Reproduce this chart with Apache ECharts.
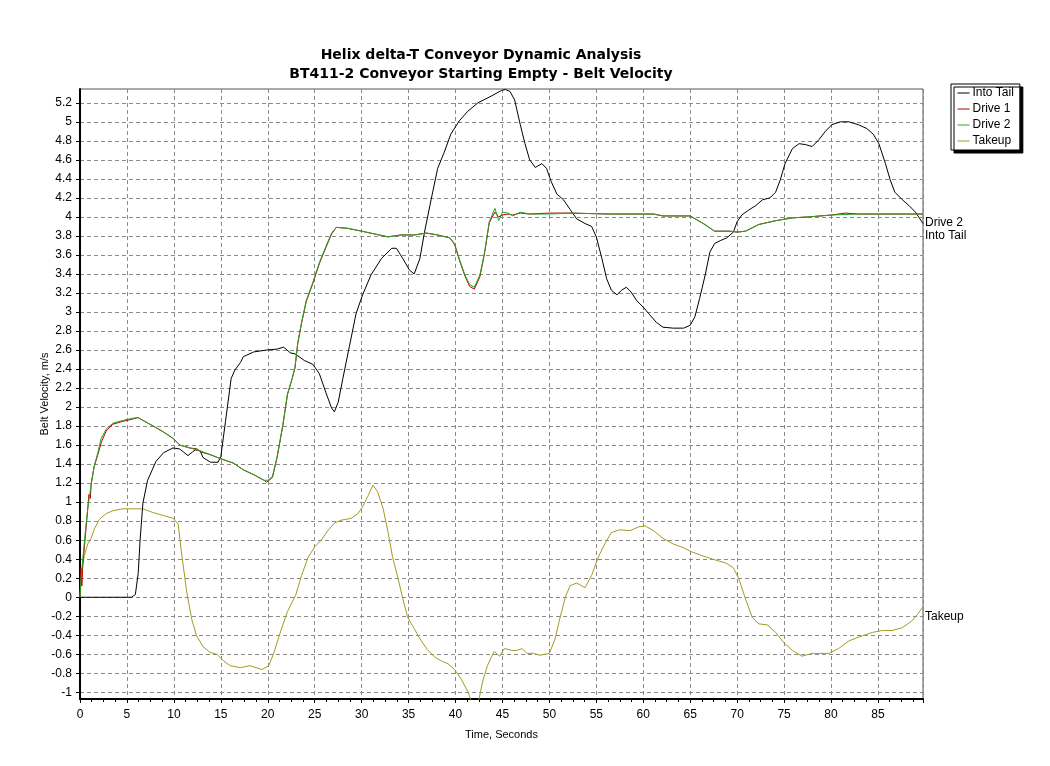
<!DOCTYPE html>
<html><head><meta charset="utf-8">
<script src="https://cdn.jsdelivr.net/npm/echarts@6/dist/echarts.min.js"></script>
<style>html,body{margin:0;padding:0;background:#fff}#c{width:1050px;height:766px}</style>
</head><body><div id="c"></div>
<script>
const titleText = 'Helix delta-T Conveyor Dynamic Analysis\nBT411-2 Conveyor Starting Empty - Belt Velocity';
const xName = 'Time, Seconds';
const yName = 'Belt Velocity, m/s';
const seriesNames = ['Into Tail', 'Drive 1', 'Drive 2', 'Takeup'];
const seriesColors = ['#000000', '#b40000', '#22a622', '#a39b22'];
const yTicks = [-1, -0.8, -0.6, -0.4, -0.2, 0, 0.2, 0.4, 0.6, 0.8, 1, 1.2, 1.4, 1.6, 1.8, 2, 2.2, 2.4, 2.6, 2.8, 3, 3.2, 3.4, 3.6, 3.8, 4, 4.2, 4.4, 4.6, 4.8, 5, 5.2];

const intoTailT = [0,5.5,5.9,6.2,6.4,6.7,7.2,8.1,8.9,9.9,10.6,11.0,11.5,12.0,12.3,12.8,13.1,13.9,14.7,15.0,15.5,16.1,16.5,17.1,17.4,18.5,19.9,21.0,21.7,22.4,22.9,23.9,24.8,25.5,26.2,26.8,27.1,27.5,28.0,28.7,29.4,30.1,31.0,32.1,33.2,33.7,34.4,35.1,35.6,36.2,36.7,37.4,38.1,38.8,39.5,40.4,41.3,42.4,43.8,44.9,45.3,45.8,46.3,46.9,47.4,47.9,48.5,49.2,49.7,50.2,50.8,51.5,52.2,52.9,53.8,54.5,55.0,55.6,56.1,56.6,57.2,57.7,58.2,58.7,59.3,60.0,60.7,61.4,62.1,63.2,64.3,65.0,65.5,66.0,66.6,67.1,67.6,68.2,68.9,69.6,70.0,70.5,71.2,72.0,72.7,73.5,74.1,74.6,75.1,75.9,76.6,77.3,78.0,78.7,79.4,80.1,81.0,81.9,82.9,83.8,84.5,85.1,85.8,86.3,86.8,87.6,88.3,89.0,89.8];
const intoTailV = [0,0,0.03,0.25,0.6,0.99,1.23,1.43,1.52,1.57,1.56,1.53,1.49,1.53,1.55,1.54,1.47,1.42,1.42,1.48,1.85,2.3,2.39,2.47,2.53,2.58,2.6,2.61,2.63,2.57,2.56,2.49,2.45,2.35,2.15,1.99,1.95,2.05,2.3,2.64,2.98,3.18,3.39,3.56,3.67,3.67,3.56,3.44,3.40,3.56,3.84,4.18,4.51,4.68,4.87,5.01,5.11,5.2,5.27,5.33,5.34,5.32,5.23,4.97,4.77,4.6,4.52,4.56,4.51,4.37,4.24,4.18,4.08,3.98,3.93,3.9,3.79,3.56,3.35,3.23,3.18,3.23,3.26,3.21,3.12,3.05,2.97,2.89,2.84,2.83,2.83,2.86,2.95,3.14,3.39,3.63,3.72,3.75,3.78,3.84,3.95,4.02,4.07,4.12,4.18,4.2,4.26,4.39,4.56,4.72,4.77,4.76,4.74,4.81,4.9,4.97,5.0,5.0,4.97,4.93,4.87,4.77,4.56,4.39,4.26,4.18,4.12,4.05,3.93];

const drive1T = [0,0.1,0.2,0.3,0.55,0.8,0.95,1.1,1.2,1.5,1.9,2.3,2.8,3.5,4.57,5.46,6.18,6.7,7.8,8.86,9.93,10.64,11.7,12.5,12.8,13.86,14.9,16.36,17.4,18.5,19.6,19.9,20.5,21.0,21.6,22.1,22.6,22.9,23.2,23.6,24.1,24.8,25.5,26.2,26.8,27.3,28.5,30.0,31.4,32.8,34.2,35.6,36.9,38.1,39.4,39.9,40.4,41.0,41.5,42.0,42.6,43.1,43.6,44.2,44.6,45.0,45.6,46.1,46.9,47.9,50.0,52.2,56.4,61.1,62.1,65.0,66.4,67.6,69.2,70.0,70.9,72.3,74.1,75.9,77.6,80.1,81.5,82.9,89.8];
const drive1V = [0,0.31,0.12,0.35,0.62,0.9,1.08,1.04,1.2,1.37,1.5,1.64,1.75,1.82,1.85,1.87,1.89,1.86,1.8,1.74,1.67,1.6,1.57,1.56,1.53,1.5,1.46,1.41,1.34,1.29,1.23,1.21,1.26,1.47,1.8,2.13,2.3,2.41,2.67,2.88,3.11,3.3,3.51,3.68,3.82,3.89,3.88,3.85,3.82,3.79,3.81,3.81,3.83,3.81,3.78,3.71,3.55,3.38,3.27,3.24,3.37,3.62,3.94,4.05,4.0,4.02,4.03,4.02,4.04,4.03,4.04,4.04,4.03,4.03,4.01,4.01,3.93,3.85,3.85,3.84,3.85,3.92,3.96,3.99,4.0,4.02,4.04,4.03,4.03];

const drive2T = [0,0.1,0.3,0.57,0.82,1.18,1.54,1.9,2.25,2.8,3.5,4.57,5.46,6.18,6.7,7.8,8.86,9.93,10.64,11.7,12.8,13.86,14.9,16.36,17.4,18.5,19.6,20.0,20.5,21.0,21.6,22.1,22.6,22.9,23.2,23.6,24.1,24.8,25.5,26.2,26.8,27.3,28.5,30.0,31.4,32.8,34.2,35.6,36.9,38.1,39.4,39.9,40.4,41.0,41.5,42.0,42.6,43.1,43.6,44.2,44.6,45.0,45.6,46.1,46.9,47.9,50.0,52.2,56.4,61.1,62.1,65.0,66.4,67.6,69.2,70.0,70.9,72.3,74.1,75.9,77.6,80.1,82.9,89.8];
const drive2V = [0,0.19,0.4,0.69,0.93,1.18,1.39,1.52,1.67,1.77,1.83,1.86,1.88,1.89,1.86,1.8,1.74,1.67,1.6,1.57,1.54,1.5,1.46,1.41,1.34,1.29,1.23,1.23,1.27,1.48,1.81,2.14,2.3,2.42,2.68,2.89,3.12,3.31,3.52,3.69,3.83,3.89,3.88,3.85,3.82,3.79,3.81,3.81,3.83,3.81,3.78,3.72,3.56,3.39,3.29,3.26,3.39,3.63,3.95,4.09,3.96,4.05,4.04,4.01,4.05,4.03,4.03,4.04,4.03,4.03,4.01,4.01,3.93,3.85,3.85,3.84,3.85,3.92,3.96,3.99,4.0,4.02,4.03,4.03];

const takeupT = [0,0.2,0.46,0.82,1.18,1.54,2.07,2.8,3.5,4.57,5.64,6.7,7.8,8.86,9.93,10.46,10.8,11.36,11.9,12.4,13.1,13.86,14.6,15.3,16.0,17.1,18.1,19.4,20.1,20.6,21.4,22.1,23.0,23.6,24.3,25.0,25.7,26.4,27.1,27.8,28.9,29.6,30.1,30.7,31.2,31.7,32.3,32.8,33.3,33.9,34.4,34.9,35.6,36.3,37.0,37.8,38.5,39.2,39.9,40.6,41.3,41.8,42.4,42.9,43.4,44.1,44.7,45.2,46.1,46.5,47.1,47.6,48.3,49.0,50.0,50.6,51.1,51.7,52.2,52.9,53.8,54.5,55.2,55.9,56.6,57.5,58.6,59.5,60.2,61.1,62.1,63.2,64.3,65.1,66.2,67.4,68.8,69.6,70.2,70.9,71.6,72.3,73.2,74.1,75.0,75.9,76.9,78.0,79.8,80.8,81.9,82.9,84.4,85.4,86.5,87.6,88.6,89.3,89.8];
const takeupV = [0,0.27,0.44,0.56,0.62,0.72,0.82,0.88,0.91,0.93,0.93,0.93,0.89,0.86,0.83,0.77,0.48,0.06,-0.23,-0.4,-0.52,-0.58,-0.6,-0.67,-0.72,-0.74,-0.72,-0.76,-0.72,-0.6,-0.35,-0.15,0.03,0.23,0.42,0.53,0.6,0.7,0.78,0.81,0.83,0.88,0.95,1.07,1.18,1.11,0.93,0.69,0.42,0.19,-0.02,-0.21,-0.33,-0.45,-0.55,-0.63,-0.67,-0.7,-0.76,-0.86,-0.99,-1.12,-1.12,-0.88,-0.72,-0.57,-0.62,-0.54,-0.56,-0.56,-0.54,-0.59,-0.59,-0.61,-0.59,-0.44,-0.23,0.0,0.12,0.15,0.1,0.23,0.42,0.56,0.68,0.71,0.7,0.74,0.75,0.7,0.62,0.56,0.52,0.48,0.44,0.4,0.36,0.31,0.19,-0.02,-0.21,-0.28,-0.29,-0.37,-0.48,-0.56,-0.62,-0.59,-0.59,-0.54,-0.46,-0.42,-0.37,-0.35,-0.35,-0.32,-0.25,-0.17,-0.1];

const zip = (t, v) => t.map((x, i) => [x, v[i]]);
const FONT = '"Liberation Sans", Arial, sans-serif';

function lineSeries(name, color, data, label, labelOffset, z) {
  const s = {
    name, type: 'line', data, symbol: 'none', showSymbol: false, z,
    lineStyle: { color, width: 1 }, itemStyle: { color },
    clip: true
  };
  if (label) {
    s.endLabel = { show: true, formatter: label, color: '#000', fontFamily: FONT, fontSize: 12,
      distance: 2, offset: labelOffset };
  }
  return s;
}

const chart = echarts.init(document.getElementById('c'), null, { renderer: 'canvas' });
chart.setOption({
  animation: false,
  backgroundColor: '#fff',
  title: {
    text: titleText, left: 476, top: 41, textAlign: 'center',
    textStyle: { fontFamily: '"DejaVu Sans", sans-serif', fontWeight: 'bold', fontSize: 14, lineHeight: 19, color: '#000' }
  },
  legend: {
    data: seriesNames, orient: 'vertical', left: 951, top: 84,
    backgroundColor: '#fff', borderColor: '#000', borderWidth: 1,
    shadowColor: '#000', shadowBlur: 0, shadowOffsetX: 3, shadowOffsetY: 3,
    padding: [3, 6, 3, 6], itemGap: 4, itemWidth: 12, itemHeight: 12,
    itemStyle: { color: 'transparent', borderColor: 'transparent', borderWidth: 0, opacity: 0 },
    lineStyle: { width: 1 },
    textStyle: { fontFamily: FONT, fontSize: 12, color: '#000', padding: [0, 0, 0, -2] }
  },
  grid: { left: 80, right: 127, top: 89, bottom: 67, show: true, borderColor: '#555', borderWidth: 1, backgroundColor: '#fff' },
  xAxis: {
    type: 'value', min: 0, max: 89.8, interval: 5,
    name: xName, nameLocation: 'middle', nameGap: 30, nameMoveOverlap: false,
    nameTextStyle: { fontFamily: FONT, fontSize: 11, color: '#000' },
    axisLine: { show: true, onZero: false, lineStyle: { color: '#000', width: 2 } },
    axisTick: { show: true, length: 4, lineStyle: { color: '#000' } },
    minorTick: { show: true, splitNumber: 4, length: 3, lineStyle: { color: '#000' } },
    axisLabel: { fontFamily: FONT, fontSize: 12, color: '#000', margin: 10, showMaxLabel: false },
    splitLine: { show: true, lineStyle: { color: '#8a8a8a', type: [4, 3], width: 1 } }
  },
  yAxis: {
    type: 'value', min: -1.07, max: 5.345,
    name: yName, nameLocation: 'middle', nameGap: 30, nameRotate: 90, nameMoveOverlap: false,
    nameTextStyle: { fontFamily: FONT, fontSize: 11, color: '#000' },
    axisLine: { show: true, onZero: false, lineStyle: { color: '#000', width: 2 } },
    axisTick: { show: true, length: 4, customValues: yTicks, lineStyle: { color: '#000' } },
    axisLabel: { fontFamily: FONT, fontSize: 12, color: '#000', margin: 8, customValues: yTicks },
    splitLine: { show: true, customValues: yTicks, lineStyle: { color: '#8a8a8a', type: [4, 3], width: 1 } }
  },
  series: [
    lineSeries(seriesNames[3], seriesColors[3], zip(takeupT, takeupV), 'Takeup', [0, 10], 2),
    lineSeries(seriesNames[0], seriesColors[0], zip(intoTailT, intoTailV), 'Into Tail', [0, 12], 3),
    lineSeries(seriesNames[1], seriesColors[1], zip(drive1T, drive1V), null, null, 4),
    lineSeries(seriesNames[2], seriesColors[2], zip(drive2T, drive2V), 'Drive 2', [0, 9], 5)
  ]
});
</script></body></html>
